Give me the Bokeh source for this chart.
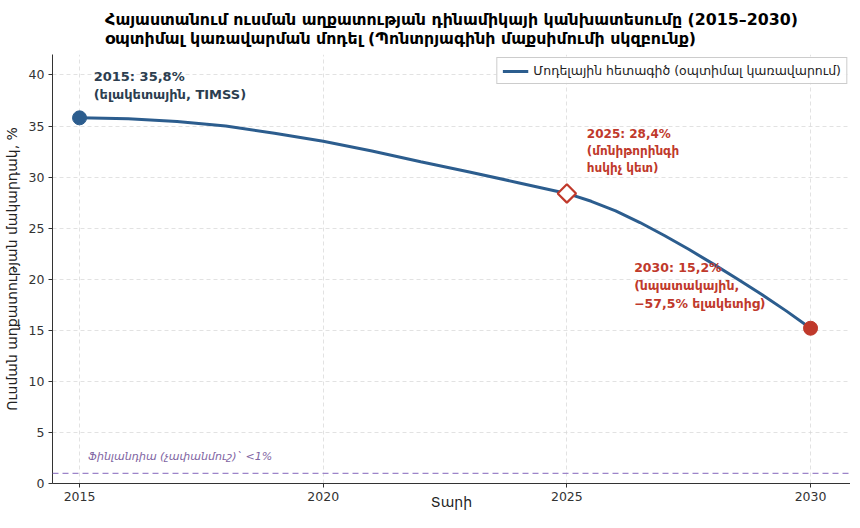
from bokeh.plotting import figure
from bokeh.models import Range1d, FixedTicker, Legend, LegendItem, Span
from bokeh.core.properties import value
from bokeh.embed import file_html
from bokeh.resources import INLINE

years = [2015, 2016, 2017, 2018, 2019, 2020, 2021, 2022, 2023, 2024, 2025,
         2025.5, 2026, 2026.5, 2027, 2027.5, 2028, 2028.5, 2029, 2029.5, 2030]
poverty = [35.8, 35.72, 35.45, 35.0, 34.3, 33.5, 32.55, 31.5, 30.5, 29.45, 28.4,
           27.63, 26.7, 25.55, 24.28, 22.93, 21.5, 20.03, 18.5, 16.9, 15.2]
start_year, start_val = [2015], [35.8]
mid_year, mid_val = [2025], [28.4]
end_year, end_val = [2030], [15.2]
finland_level = 1.0
x_ticks = [2015, 2020, 2025, 2030]
y_ticks = [0, 5, 10, 15, 20, 25, 30, 35, 40]

FONT = "DejaVu Sans"
BLUE = "#2c5d8e"
RED = "#c0392b"
NAVY = "#2c3e50"
PURPLE = "#8064a2"
PURPLE_LINE = "#9d85c9"

p = figure(width=850, height=512, output_backend="svg", toolbar_location=None,
           x_range=Range1d(2014.445, 2030.82), y_range=Range1d(0, 42),
           min_border_left=44, min_border_right=0, min_border_top=0, min_border_bottom=0)

p.title.text = "Հայաստանում ուսման աղքատության դինամիկայի կանխատեսումը (2015–2030)\nօպտիմալ կառավարման մոդել (Պոնտրյագինի մաքսիմումի սկզբունք)"
p.title.text_font = FONT
p.title.text_font_size = "15.8px"
p.title.text_font_style = "bold"
p.title.align = "center"
p.title.text_color = "#000000"
p.title.standoff = 14

p.outline_line_color = None
for ax in (p.xaxis, p.yaxis):
    ax.axis_line_color = "#333333"
    ax.major_tick_line_color = "#333333"
    ax.major_tick_out = 4
    ax.major_tick_in = 0
    ax.minor_tick_line_color = None
    ax.major_label_text_font = FONT
    ax.major_label_text_font_size = "12.5px"
    ax.major_label_text_color = "#333333"
    ax.axis_label_text_font = FONT
    ax.axis_label_text_font_size = "14px"
    ax.axis_label_text_font_style = "normal"
    ax.axis_label_text_color = "#222222"
    ax.major_label_standoff = 4

p.xaxis.ticker = FixedTicker(ticks=x_ticks)
p.yaxis.ticker = FixedTicker(ticks=y_ticks)
p.xaxis.axis_label = "Տարի"
p.yaxis.axis_label = "Ուսման աղքատության մակարդակ, %"
p.xaxis.major_label_standoff = 4
p.xaxis.axis_label_standoff = -10
p.xaxis.axis_label_text_line_height = 1.0
p.xaxis.major_label_text_line_height = 1.0
p.yaxis.axis_label_standoff = 6

p.grid.grid_line_color = "#d5d5d5"
p.grid.grid_line_dash = "4 3"
p.grid.grid_line_alpha = 0.7

# Finland benchmark
p.add_layout(Span(location=finland_level, dimension="width", line_color=PURPLE_LINE,
                  line_alpha=1.0, line_dash="6 4", line_width=1.3))
p.text(x=[2015.18], y=[2.6], text=["Ֆինլանդիա (չափանմուշ)` <1%"], text_font=value(FONT),
       text_font_size="11px", text_font_style="italic", text_color=PURPLE,
       text_baseline="middle", text_align="left")

line = p.line(years, poverty, line_color=BLUE, line_width=3)

p.scatter(start_year, start_val, size=14, marker="circle", fill_color=BLUE, line_color=BLUE)
p.scatter(mid_year, mid_val, size=13, marker="square", angle=0.7854, fill_color="white",
          line_color=RED, line_width=2.2)
p.scatter(end_year, end_val, size=14, marker="circle", fill_color=RED, line_color=RED)

p.text(x=[2015.29], y=[40.6], text=["2015: 35,8%\n(ելակետային, TIMSS)"], text_font=value(FONT),
       text_font_size="13px", text_font_style="bold", text_color=NAVY,
       text_baseline="top", text_align="left", text_line_height=1.2)
p.text(x=[2025.41], y=[34.9], text=["2025: 28,4%\n(մոնիթորինգի\nհսկիչ կետ)"], text_font=value(FONT),
       text_font_size="12px", text_font_style="bold", text_color=RED,
       text_baseline="top", text_align="left", text_line_height=1.2)
p.text(x=[2026.38], y=[21.9], text=["2030: 15,2%\n(նպատակային,\n−57,5% ելակետից)"], text_font=value(FONT),
       text_font_size="12.5px", text_font_style="bold", text_color=RED,
       text_baseline="top", text_align="left", text_line_height=1.2)

legend = Legend(items=[LegendItem(label="Մոդելային հետագիծ (օպտիմալ կառավարում)", renderers=[line])],
                location="top_right")
legend.label_text_font = FONT
legend.label_text_font_size = "12.5px"
legend.label_text_color = "#222222"
legend.border_line_color = "#cccccc"
legend.border_line_alpha = 1.0
legend.background_fill_alpha = 0.9
legend.margin = 3
legend.padding = 5
legend.glyph_width = 26
legend.glyph_height = 14
legend.label_standoff = 5
p.add_layout(legend)

open("out.html", "w").write(file_html(p, INLINE))
